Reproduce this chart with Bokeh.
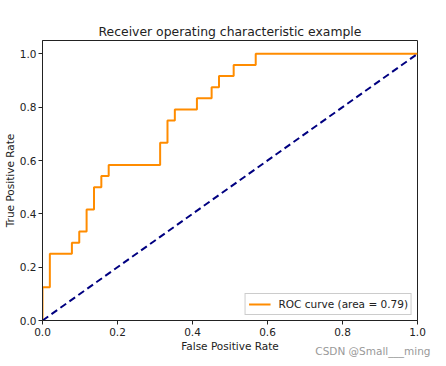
from bokeh.plotting import figure
from bokeh.embed import file_html
from bokeh.resources import INLINE
from bokeh.models import Range1d, FixedTicker, PrintfTickFormatter, Title, Legend, LegendItem

# ROC curve data
fpr = [0.0, 0.0, 0.0196, 0.0196, 0.0784, 0.0784, 0.098, 0.098, 0.1176, 0.1176,
       0.1373, 0.1373, 0.1569, 0.1569, 0.1765, 0.1765, 0.3137, 0.3137, 0.3333, 0.3333,
       0.3529, 0.3529, 0.4118, 0.4118, 0.451, 0.451, 0.4706, 0.4706, 0.5098, 0.5098,
       0.5686, 0.5686, 1.0]
tpr = [0.0, 0.125, 0.125, 0.25, 0.25, 0.2917, 0.2917, 0.3333, 0.3333, 0.4167,
       0.4167, 0.5, 0.5, 0.5417, 0.5417, 0.5833, 0.5833, 0.6667, 0.6667, 0.75,
       0.75, 0.7917, 0.7917, 0.8333, 0.8333, 0.875, 0.875, 0.9167, 0.9167, 0.9583,
       0.9583, 1.0, 1.0]
chance_x = [0.0, 1.0]
chance_y = [0.0, 1.0]
roc_auc = 0.79
ticks = [0.0, 0.2, 0.4, 0.6, 0.8, 1.0]

FONT = "DejaVu Sans"

p = figure(frame_width=375, frame_height=280, output_backend="svg", toolbar_location=None,
           x_range=Range1d(0, 1.0), y_range=Range1d(0, 1.05),
           title="Receiver operating characteristic example",
           min_border_left=34, min_border_right=21, min_border_top=40, min_border_bottom=44)
p.background_fill_color = "white"
p.border_fill_color = "white"
p.outline_line_color = "#222222"
p.outline_line_width = 1
p.xgrid.visible = False
p.ygrid.visible = False

p.title.text_font = FONT
p.title.text_font_size = "12.4px"
p.title.text_font_style = "normal"
p.title.text_color = "#222222"
p.title.align = "center"
p.title.standoff = 4

for ax in (p.xaxis[0], p.yaxis[0]):
    ax.ticker = FixedTicker(ticks=ticks)
    ax.formatter = PrintfTickFormatter(format="%.1f")
    ax.major_label_text_font = FONT
    ax.major_label_text_font_size = "10.5px"
    ax.major_label_text_color = "#222222"
    ax.axis_label_text_font = FONT
    ax.axis_label_text_font_size = "10.5px"
    ax.axis_label_text_font_style = "normal"
    ax.axis_label_text_color = "#222222"
    ax.major_tick_out = 4
    ax.major_tick_in = 0
    ax.minor_tick_line_color = None
    ax.axis_line_color = "#222222"
    ax.major_tick_line_color = "#222222"

p.yaxis.major_label_standoff = 2
p.yaxis.axis_label_standoff = 1
p.xaxis.major_label_standoff = 3
p.xaxis.axis_label_standoff = 1

p.xaxis.axis_label = "False Positive Rate"
p.yaxis.axis_label = "True Positive Rate"

roc = p.line(fpr, tpr, line_color="darkorange", line_width=2)
p.line(chance_x, chance_y, line_color="navy", line_width=2, line_dash="7 4")

legend = Legend(items=[LegendItem(label="ROC curve (area = %0.2f)" % roc_auc, renderers=[roc])],
                location="bottom_right")
legend.label_text_font = FONT
legend.label_text_font_size = "10.5px"
legend.label_text_color = "#222222"
legend.border_line_color = "#cccccc"
legend.border_line_alpha = 1
legend.background_fill_alpha = 0.8
legend.padding = 3
legend.spacing = 0
legend.margin = 5
legend.glyph_width = 22
legend.label_standoff = 8
legend.label_height = 14
legend.glyph_height = 14
p.add_layout(legend)

wm = Title(text="CSDN @Small___ming", align="right", vertical_align="top",
           standoff=-20, offset=-13,
           text_font=FONT, text_font_size="10.5px", text_font_style="normal",
           text_color="#999999")
p.add_layout(wm, "below")

open("out.html", "w").write(file_html(p, INLINE))
